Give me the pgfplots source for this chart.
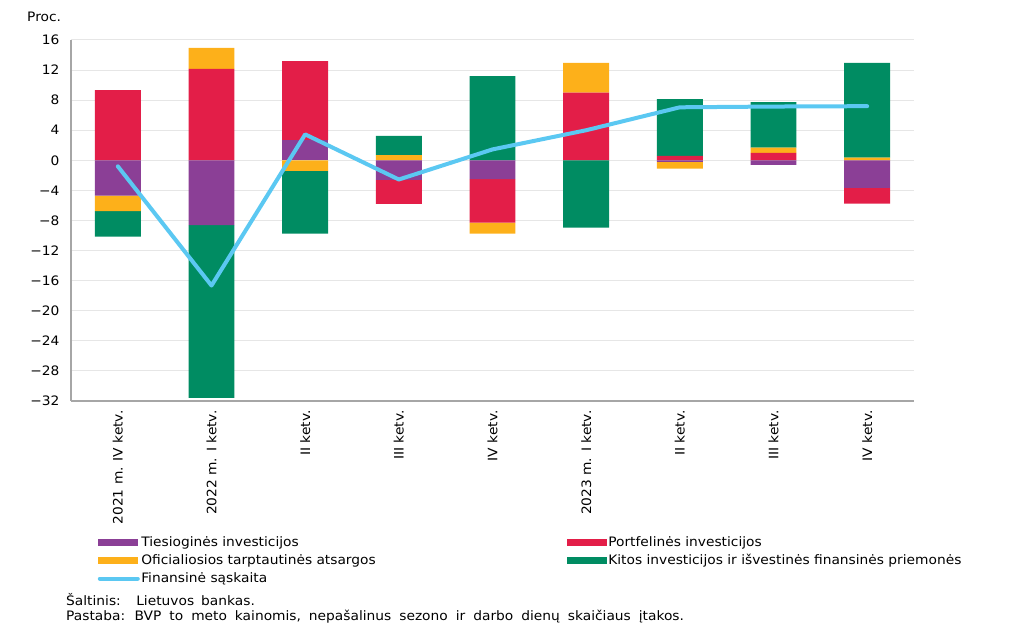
\documentclass[border=0pt]{standalone}
\usepackage{pgfplots}
\pgfplotsset{compat=1.18}
\usepackage{pgfplotstable}
\usepackage{fontspec}
\setmainfont{DejaVu Sans}[FakeStretch=1.06]

\definecolor{cTies}{HTML}{8B3F96}
\definecolor{cPort}{HTML}{E31E48}
\definecolor{cOfic}{HTML}{FDB01A}
\definecolor{cKit}{HTML}{008C62}
\definecolor{cFin}{HTML}{5BC8F2}
\definecolor{cGrid}{HTML}{E6E6E6}
\definecolor{cAx}{HTML}{A6A6A6}

\newcommand{\fnt}{\fontsize{13bp}{15.5bp}\selectfont}

% x: quarter index; t: Tiesiogines; p: Portfelines; o: Oficialiosios; k: Kitos; f: Finansine saskaita
\pgfplotstableread{
x t p o k f
0 -4.70 9.35 -2.05 -3.40 -0.80
1 -8.60 12.15 2.80 -23.00 -16.65
2 2.70 10.50 -1.40 -8.35 3.45
3 -2.60 -3.20 0.70 2.55 -2.55
4 -2.50 -5.80 -1.45 11.20 1.45
5 0.00 9.00 3.95 -8.95 4.00
6 -0.20 0.60 -0.90 7.55 7.05
7 -0.60 1.00 0.68 6.07 7.15
8 -3.65 -2.10 0.35 12.60 7.20
}\data

\pgfplotsset{
  common/.style={
    at={(71bp,237bp)}, anchor=south west, scale only axis,
    width=843bp, height=361bp,
    xmin=-0.5, xmax=8.5, ymin=-32, ymax=16,
  },
  barax/.style={common, ybar stacked, bar width=0.49},
}

\begin{document}
\fnt
\begin{tikzpicture}[x=1bp,y=1bp]
\path[use as bounding box] (0,0) rectangle (1019,638);

\begin{axis}[barax,
  font=\fnt,
  axis x line*=bottom, axis y line*=left,
  axis line style={color=cAx, line width=1.6bp, -},
  major tick length=0pt,
  ytick={-32,-28,...,16},
  yticklabels={−32,−28,−24,−20,−16,−12,−8,−4,0,4,8,12,16},
  xtick={0,...,8},
  xticklabels={2021 m. IV ketv.,2022 m. I ketv.,II ketv.,III ketv.,IV ketv.,2023 m. I ketv.,II ketv.,III ketv.,IV ketv.},
  x tick label style={rotate=90, anchor=east, xshift=-5bp},
  y tick label style={xshift=-7bp},
  ymajorgrids, grid style={color=cGrid, line width=1bp},
  legend style={at={(axis description cs:0.028,-0.365)}, anchor=north west,
    draw=none, fill=none, legend columns=2,
    font=\fnt,
    nodes={inner sep=1.5bp},
    row sep=3bp,
    /tikz/column 2/.style={text width=424bp}},
  legend cell align=left,
  legend image code/.code={\fill[#1] (0bp,-3.2bp) rectangle (40bp,3.2bp);},
]
\addplot[fill=cTies, draw=none] table[x=x, y expr={max(\thisrow{t},0)}] {\data};
\addlegendentry{Tiesioginės investicijos}
\addplot[fill=cPort, draw=none] table[x=x, y expr={max(\thisrow{p},0)}] {\data};
\addlegendentry{Portfelinės investicijos}
\addplot[fill=cOfic, draw=none] table[x=x, y expr={max(\thisrow{o},0)}] {\data};
\addlegendentry{Oficialiosios tarptautinės atsargos}
\addplot[fill=cKit, draw=none] table[x=x, y expr={max(\thisrow{k},0)}] {\data};
\addlegendentry{Kitos investicijos ir išvestinės finansinės priemonės}
\addlegendimage{legend image code/.code={\draw[cFin, line width=4bp, line cap=round] (2bp,0bp) -- (40bp,0bp);}}
\addlegendentry{Finansinė sąskaita}
\end{axis}

\begin{axis}[barax, hide axis]
\addplot[fill=cTies, draw=none] table[x=x, y expr={min(\thisrow{t},0)}] {\data};
\addplot[fill=cPort, draw=none] table[x=x, y expr={min(\thisrow{p},0)}] {\data};
\addplot[fill=cOfic, draw=none] table[x=x, y expr={min(\thisrow{o},0)}] {\data};
\addplot[fill=cKit, draw=none] table[x=x, y expr={min(\thisrow{k},0)}] {\data};
\end{axis}

\begin{axis}[common, hide axis]
\addplot[cFin, line width=4bp, line join=round, line cap=round, mark=none] table[x=x, y=f] {\data};
\end{axis}

\node[anchor=west, inner sep=0] at (27,621) {Proc.};
\node[anchor=west, inner sep=0] at (66,38) {\spaceskip=7bp plus 1bp Šaltinis:~ Lietuvos bankas.};
\node[anchor=west, inner sep=0] at (66,21) {\spaceskip=8bp plus 1bp Pastaba: BVP to meto kainomis, nepašalinus sezono ir darbo dienų skaičiaus įtakos.};
\end{tikzpicture}
\end{document}
